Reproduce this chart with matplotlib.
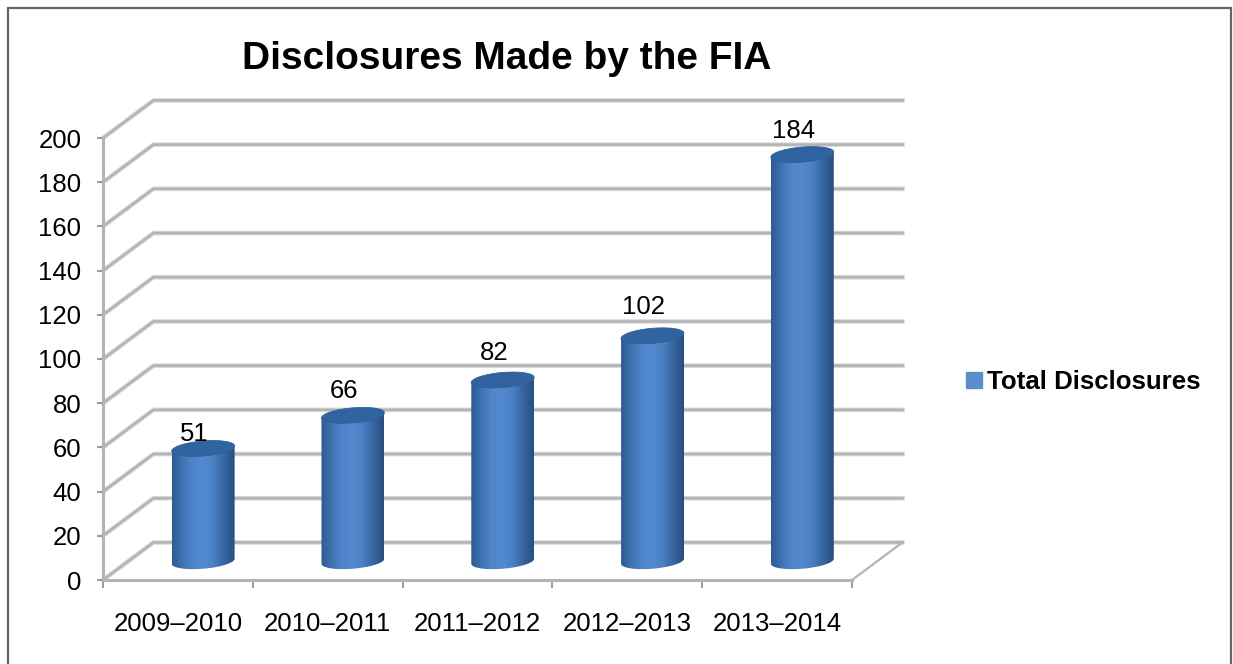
import matplotlib
matplotlib.use("Agg")
import matplotlib.pyplot as plt
import numpy as np
from matplotlib.colors import LinearSegmentedColormap
from matplotlib.patches import PathPatch, Patch, Rectangle
from matplotlib.path import Path

plt.rcParams['font.family'] = ['Liberation Sans', 'DejaVu Sans']

years = ["2009–2010", "2010–2011", "2011–2012", "2012–2013", "2013–2014"]
disclosures = [51, 66, 82, 102, 184]
label_lift = [15, 24, 27, 29, 24]
y_ticks = list(range(0, 201, 20))

GRID = "#b4b4b4"
depth_x = 0.337
depth_y = 17.0
half_w = 0.21
rad_y = 3.4
shear = 1.15


bar_cmap = LinearSegmentedColormap.from_list(
    "cyl", ["#2d5b92", "#3e72b2", "#4f85ca", "#5389cf", "#4a7fc2", "#37659f", "#27507f"])


def cylinder_path(cx, top):
    # side wall: along the lower rim from left to right, then back over the top rim
    t = np.linspace(np.pi, 2 * np.pi, 40)
    low_x = cx + half_w * np.cos(t)
    low_y = depth_y / 2 + rad_y * np.sin(t) + shear * np.cos(t)
    up_x = low_x[::-1]
    up_y = top + shear * np.cos(t[::-1])
    return Path(np.column_stack([np.r_[low_x, up_x], np.r_[low_y, up_y]]))


def top_path(cx, top):
    t = np.linspace(0, 2 * np.pi, 80)
    return Path(np.column_stack([cx + half_w * np.cos(t),
                                 top + rad_y * np.sin(t) + shear * np.cos(t)]))


fig = plt.figure(figsize=(12.33, 6.64), dpi=100)
ax = fig.add_axes([103 / 1233, (664 - 580) / 664, 749 / 1233, 442 / 664])
ax.set_xlim(-0.5, 4.5)
ax.set_ylim(0, 200)

# back wall, side wall and floor of the 3D box
for v in y_ticks:
    xs = [-0.5, -0.5 + depth_x, 4.5 + depth_x]
    ys = [v, v + depth_y, v + depth_y]
    ax.plot(xs, ys, color="#dcdcdc", lw=3.4, clip_on=False, zorder=1, solid_joinstyle="miter")
    ax.plot(xs, ys, color=GRID, lw=1.9, clip_on=False, zorder=1, solid_joinstyle="miter")
ax.plot([4.5, 4.5 + depth_x], [0, depth_y], color=GRID, lw=1.6, clip_on=False, zorder=1)

# cylinders
gradient = np.linspace(0, 1, 256).reshape(1, -1)
for i, v in enumerate(disclosures):
    cx = i + depth_x / 2
    top = v + depth_y / 2
    im = ax.imshow(gradient, cmap=bar_cmap, aspect="auto", zorder=3,
                   extent=[cx - half_w, cx + half_w, 0, top + 10])
    im.set_clip_path(PathPatch(cylinder_path(cx, top), transform=ax.transData))
    ax.add_patch(PathPatch(top_path(cx, top), facecolor="#30639f", edgecolor="#2f5f98",
                           lw=0.6, zorder=4, clip_on=False))
    ax.annotate(str(v), (cx, top), xytext=(-6.5, label_lift[i] * 0.72), textcoords="offset points",
                ha="center", va="center", fontsize=18.5, color="black", zorder=5)
ax.set_xlim(-0.5, 4.5)
ax.set_ylim(0, 200)

for side in ("top", "right"):
    ax.spines[side].set_visible(False)
for side in ("left", "bottom"):
    ax.spines[side].set_color(GRID)
    ax.spines[side].set_linewidth(2.2)
    ax.spines[side].set_zorder(2)

ax.set_yticks(y_ticks)
ax.set_xticks(range(len(years)))
ax.set_xticklabels(years)
ax.set_xticks(np.arange(-0.5, 5, 1), minor=True)
ax.tick_params(axis="y", length=4.5, width=1.2, color="#8a8a8a", pad=11, labelsize=18.5, labelcolor="black")
ax.tick_params(axis="x", which="major", length=0, pad=23, labelsize=18.5, labelcolor="black")
ax.tick_params(axis="x", which="minor", length=6, width=1.2, color="#8a8a8a")

fig.text(507 / 1233, 1 - 59 / 664, "Disclosures Made by the FIA", ha="center", va="center",
         fontsize=28, fontweight="bold", color="black")

handle = Patch(facecolor="#5b8fcb", edgecolor="#5b8fcb", label="Total Disclosures")
fig.legend(handles=[handle], loc="center left", bbox_to_anchor=(961 / 1233, 1 - 382 / 664),
           frameon=False, prop={"size": 18.6, "weight": "bold"}, handlelength=0.6,
           handleheight=0.6, handletextpad=0.2, borderpad=0.2, borderaxespad=0)

# outer frame runs off the bottom edge of the image
fig.add_artist(Rectangle((8 / 1233, -0.05), 1223 / 1233, 1.05 - 8 / 664, transform=fig.transFigure,
                         fill=False, edgecolor="#666666", lw=1.6))

fig.savefig("out.png", dpi=100)
